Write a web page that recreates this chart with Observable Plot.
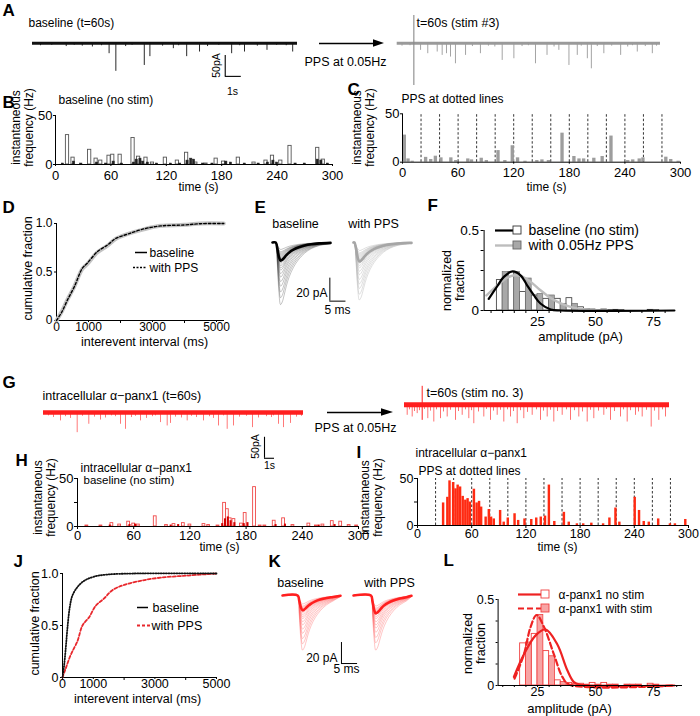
<!DOCTYPE html>
<html><head><meta charset="utf-8">
<script src="https://cdn.jsdelivr.net/npm/d3@7"></script>
<script src="https://cdn.jsdelivr.net/npm/@observablehq/plot@0.6"></script>
<style>
html,body{margin:0;padding:0;background:#fff;}
#fig{position:relative;width:700px;height:716px;overflow:hidden;background:#fff;}
#fig svg{position:absolute;left:0;top:0;}
</style></head><body><div id="fig"></div>
<script>
// ================= DATA =================
// A: spontaneous events in the 60 s sample traces (time s, amplitude pA)
const aBaseT   = [0.5,1.2,2.1,2.6,3.1,3.73,4.3,4.77,5.19,5.8,6.2,6.96,7.31,8.1,8.77,9.1,9.6,10.4,10.9,11.6,12.4,12.9,13.2,14.0,14.6,15.2,15.8,16.2];
const aBaseAmp = [6,5,8,5,7,9,6,25,67,8,5,53,32,7,13,6,32,21,8,5,25,6,21,7,17,5,6,21];
const aStimT   = [0.3,0.8,1.46,1.91,2.5,2.81,3.08,3.33,3.64,4.27,4.7,5.2,5.7,6.1,6.56,7.29,7.8,8.2,8.64,9.36,9.8,10.1,10.73,11.25,11.5,11.88,12.13,12.5,12.91,13.4,13.96,14.4,14.7,15.0,15.5,15.94,16.2];
const aStimAmp = [7,6,17,25,21,29,25,33,49,29,8,25,7,9,41,37,8,6,49,29,9,17,53,29,7,37,61,8,25,7,29,9,6,21,8,25,7];
const aStimArtifact = {t: 1.04, up: 66, down: 101};

// G: alpha-panx1 sample traces
const gBaseT   = [0.5,1.0,1.7,2.2,2.7,3.37,3.9,4.53,5.1,5.7,6.2,6.8,7.2,7.7,8.2,8.8,9.2,9.7,10.3,10.9,11.2,11.7,12.37,12.7,13.2,13.8,14.37,14.8,15.3,16.0,16.6,17.0,17.5,18.0,18.37,19.0,19.6,20.3,20.9,21.5,22.3,22.8,23.0,23.5,24.0,24.7,25.3,25.8];
const gBaseAmp = [8,12,20,10,14,48,9,28,11,18,13,8,10,28,40,12,9,20,14,10,8,24,32,26,11,13,20,9,12,20,10,14,32,8,40,32,11,9,36,13,10,12,8,28,36,26,11,9];
const gStimT   = [0.27,0.5,0.77,1.0,1.27,1.5,2.0,2.33,2.6,2.93,3.2,3.6,3.9,4.27,4.6,5.1,5.4,5.77,6.1,6.43,6.7,6.93,7.4,7.93,8.2,8.6,8.9,9.27,9.6,9.93,10.3,10.6,10.9,11.27,11.6,11.93,12.3,12.77,13.2,13.6,13.9,14.27,14.6,14.93,15.3,15.77,16.2,16.6,17.0,17.43,17.8,18.27,18.6,18.93,19.4,19.93,20.2,20.6,21.0,21.6,21.9,22.27,22.6,23.1,23.4,23.77,24.2,24.67,25.0,25.43,25.8,26.1];
const gStimAmp = [25,12,29,16,21,14,11,33,15,41,12,33,17,29,13,37,16,25,12,33,14,45,17,29,11,37,15,25,13,41,12,29,16,45,14,33,18,25,12,37,15,29,13,41,16,25,12,37,14,29,17,41,13,33,15,25,11,37,16,29,12,41,14,25,17,29,13,53,15,37,12,29];
const gStimArtifact = {t: 1.77, up: 44, down: 37};

// B / C: instantaneous frequency (Hz) vs time (s)
const bTime  = [13,19,37,44,49,58,62,70,84,90,98,105,119,132,142,152,163,174,182,198,215,228,235,244,254,284,290];
const bFreq  = [30,7,15,6,4,9,10,10,27,8,7,2,7,4,12,2,1,6,3,7,2,4,9,4,19,17,5];
const bDarkT = [8,20,28,45,55,63,72,85,88,92,95,100,110,125,135,143,147,150,160,170,185,190,205,220,230,236,240,260,270,284,288,295];
const bDarkF = [1,3,1,2,1,3,1,2,5,6,3,2,1,1,1,4,6,5,1,1,3,2,1,1,2,4,2,1,1,5,4,1];
const cTime  = [2.5,6.5,11,25.5,31,36,42,52.7,58,71,75,85.5,91,103.6,111,119,124.7,132.7,145.5,151,158,172.7,185.5,191,196,207,216,225.5,243.6,249,256,260,284.7,290,298];
const cFreq  = [28,3.4,1,5,2.8,6.2,4.5,4.5,1.7,3.4,2.4,4.1,1.7,12,1.7,17,4.5,1,1.7,2.4,1.7,30,5.9,3.4,3.4,4.1,5.9,27,1.7,2.4,3.4,4.5,5.2,2.8,1];
const stimTimes = [20,40,60,80,100,120,140,160,180,200,220,240,260,280];

// H / I
const hTime  = [10,25,36.7,45,54.6,60,65,83,95,103,113,120,135,140,150,157,160,163,167,175,179,189,195,200,210,220,230,247,255,262,272,281,290,298];
const hFreq  = [1,1,3.5,2,5,3,2,10.6,1.5,2.5,3.5,2,2.5,1.5,1,24.6,18,8.5,7.7,3,14,41,1,1,6,8.5,1.5,3,1,2,5.6,5,1.5,1];
const hDarkT = [35,56,62,100,108,155,158,161,164,168,178,182,212,222,258,275];
const hDarkF = [1.5,2,2.5,1.5,2,3,8,10,6,4,3,4,2,2.5,1.5,2];
const iTime  = [28.9,33.6,36,40,42.6,45,47.7,50.6,53.5,56,58.5,63,66,68.7,71,76,79.5,82,85,92,96,100.5,108,112,119,126.5,132,137,141.7,146,152,162.6,168,177,184,193,206,213,219.7,224,241,245.8,251,256.6,267,280,285.5,297];
const iFreq  = [24,30,47.5,45.7,39,43,41,31,27,28.6,25,38.6,24,25.7,19.6,9,17,9,7,16,3.6,8,12.5,5.4,7,6.4,8,9,10,43,4.3,14,3.6,1.8,1.8,2.5,1.8,8,18.6,3.6,30,16,4.3,3.6,7,1.8,1.8,6.4];

// D / J: cumulative fraction vs interevent interval (ms)
const dBaseX = [0,178,334,541,803,959,1271,1584,1844,2209,2728,3250,3978,4500,5228];
const dBaseY = [0,0.10,0.21,0.34,0.53,0.58,0.70,0.77,0.84,0.89,0.94,0.976,0.986,1.0,1.0];
const dPPSX  = [0,170,340,560,810,960,1280,1600,1850,2220,2740,3260,3990,4510,5228];
const dPPSY  = [0,0.09,0.21,0.35,0.54,0.59,0.71,0.78,0.845,0.89,0.945,0.975,0.985,0.998,1.0];
const jBaseX = [0,54,108,162,238,324,486,702,1026,1458,2322,5000];
const jBaseY = [0,0.12,0.29,0.48,0.68,0.79,0.87,0.93,0.97,0.99,1.0,1.0];
const jPPSX  = [0,108,270,486,648,864,1080,1350,1620,1998,2538,3186,4050,5000];
const jPPSY  = [0,0.09,0.22,0.35,0.50,0.58,0.69,0.76,0.84,0.89,0.93,0.96,0.98,1.0];

// E / K: averaged mEPSC waveform (ms after onset, fraction of peak) and per-event peak amplitudes (pA)
const tplT = [0,0.5,1.0,1.5,2.0,2.6,3.3,4.2,5.5,7,9,11,13.5,17];
const tplV = [0,-0.35,-0.8,-1.0,-0.96,-0.85,-0.7,-0.55,-0.4,-0.28,-0.17,-0.1,-0.05,-0.02];
const eBaseAmps = [6,8,9,10,11,12,13,14,15,16,17,18,20,22,24,27,30,34,38,43,48,54];
const ePPSAmps  = [7,9,10,11,12,13,14,15,16,18,20,22,25,28,32,36,40,45,50];
const kBaseAmps = [8,10,11,12,13,14,15,16,18,20,22,25,28,32,36,41,46,52];
const kPPSAmps  = [10,12,13,14,15,16,18,20,22,25,28,31,35,40,45,52];
const eMean = {base: 15.7, pps: 16.5};
const kMean = {base: 14, pps: 17};

// F / L: amplitude histograms (bin centre pA, normalized fraction) and Gaussian fits
const fBins = [10,15,20,25,30,35,40,45,50,55,60,65,70,75];
const fBase = [0.19,0.24,0.115,0.094,0.073,0.073,0.077,0.02,0.006,0.006,0.004,0,0,0.004];
const fPPS  = [0.24,0.24,0.20,0.104,0.094,0.042,0.042,0.01,0.004,0.004,0.002,0,0,0.002];
const fBaseFitX = [4,7.6,10.5,14.3,17.7,20.6,23.5,26.4,30.7,35,84];
const fBaseFitY = [0.073,0.15,0.21,0.244,0.22,0.156,0.094,0.042,0.006,0,0];
const fPPSFitX  = [3,8,12,15,18,22,26,30,35,40,45,50,55];
const fPPSFitY  = [0.094,0.16,0.205,0.22,0.215,0.18,0.13,0.085,0.045,0.02,0.008,0.002,0];
const lBins = [20,25,30,35,40,45,50,55,60,65,70,75];
const lNo   = [0.245,0.30,0.20,0.03,0.015,0.01,0.015,0.015,0.005,0.005,0.005,0.01];
const lStim = [0.25,0.41,0.17,0.02,0.01,0.005,0.005,0.005,0,0.005,0,0.005];
const lNoFitX   = [14.8,19.1,24.1,28.4,33.5,37.8,40.7,43.6,84];
const lNoFitY   = [0.05,0.18,0.29,0.326,0.24,0.09,0.02,0.004,0];
const lStimFitX = [15.1,19.1,22,24.6,27.8,32.1,35.7,38.6,84];
const lStimFitY = [0.04,0.18,0.34,0.41,0.34,0.18,0.05,0.006,0];

// ================= DRAWING =================
const fig = document.getElementById("fig");
const FONT = '"Liberation Sans", Arial, Helvetica, sans-serif';
const W = 700, H = 716;
const RED = "#ff1f1f";
const pts = (xs, ys) => xs.map((x, i) => ({x, y: ys[i]}));
const ev = (ts, as) => ts.map((t, i) => ({t, a: as[i]}));

function panel(box, xs, ys, marks) {
  const svg = Plot.plot({
    width: W, height: H,
    marginLeft: box.l, marginRight: W - box.r, marginTop: box.t, marginBottom: H - box.b,
    x: {axis: null, ...xs}, y: {axis: null, ...ys},
    style: {background: "none", fontFamily: FONT, color: "#000", overflow: "visible"},
    marks
  });
  svg.style.position = "absolute"; svg.style.left = "0px"; svg.style.top = "0px";
  fig.appendChild(svg);
}
function axes(o) {
  const m = [];
  const fmt = (ticks, labs) => d => { const i = ticks.indexOf(d); return i < 0 ? "" : labs[i]; };
  m.push(Plot.axisX({ticks: o.xt, tickSize: o.ts ?? 3, tickPadding: o.xpad ?? 2, fontSize: o.fs ?? 12, label: null, tickFormat: fmt(o.xt, o.xl)}));
  m.push(Plot.axisY({ticks: o.yt, tickSize: o.ts ?? 3, tickPadding: o.ypad ?? 2, fontSize: o.fs ?? 12, label: null, tickFormat: fmt(o.yt, o.yl)}));
  m.push(Plot.ruleY([o.y0], {stroke: "#000", strokeWidth: 1}));
  m.push(Plot.ruleX([o.x0], {stroke: "#000", strokeWidth: 1}));
  return m;
}
function traceRows(amps, onset, len) {
  const rows = [];
  amps.forEach((a, k) => {
    rows.push({k, t: 0, v: 0});
    tplT.forEach((tt, j) => { const t = onset + tt; if (t < len) rows.push({k, t, v: a * tplV[j]}); });
    rows.push({k, t: len, v: a * tplV[tplV.length - 1]});
  });
  return rows;
}
function traceMarks(amps, mean, onset, color, meanColor, op) {
  return [
    Plot.line(traceRows(amps, onset, 18), {x: "t", y: "v", z: "k", stroke: color, strokeOpacity: op, strokeWidth: 0.6, curve: "catmull-rom"}),
    Plot.line(traceRows([mean], onset, 18), {x: "t", y: "v", z: "k", stroke: meanColor, strokeWidth: 2.6, curve: "catmull-rom"})
  ];
}

// ---- A: sample traces ----
const trY = {domain: [-80, 30]};
panel({l: 32, r: 297, t: 30.1, b: 76.3}, {domain: [0, 16.5]}, trY, [
  Plot.ruleY([0], {stroke: "#111", strokeWidth: 3}),
  Plot.ruleX(ev(aBaseT, aBaseAmp), {x: "t", y1: () => 0, y2: d => -d.a, stroke: "#111", strokeWidth: 0.9}),
  Plot.ruleX([12], {y1: -29, y2: -79, stroke: "#000", strokeWidth: 1.1}),
  Plot.ruleY([-79], {x1: 12, x2: 13, stroke: "#000", strokeWidth: 1.1})
]);
panel({l: 396.7, r: 660, t: 30.1, b: 76.3}, {domain: [0, 16.45]}, trY, [
  Plot.ruleY([0], {stroke: "#9a9a9a", strokeWidth: 3}),
  Plot.ruleX(ev(aStimT, aStimAmp), {x: "t", y1: () => 0, y2: d => -d.a, stroke: "#9a9a9a", strokeWidth: 0.9}),
  Plot.ruleX([aStimArtifact], {x: "t", y1: d => d.up, y2: d => -d.down, stroke: "#8a8a8a", strokeWidth: 1.1})
]);

// ---- G: sample traces ----
panel({l: 43, r: 303, t: 399.4, b: 445.6}, {domain: [0, 26]}, trY, [
  Plot.ruleY([0], {stroke: RED, strokeWidth: 4.5}),
  Plot.ruleX(ev(gBaseT, gBaseAmp), {x: "t", y1: () => 0, y2: d => -d.a, stroke: RED, strokeOpacity: 0.75, strokeWidth: 0.8}),
  Plot.ruleX([22.1], {y1: -59, y2: -109, stroke: "#000", strokeWidth: 1.1}),
  Plot.ruleY([-109], {x1: 22.1, x2: 23.1, stroke: "#000", strokeWidth: 1.1})
]);
panel({l: 404, r: 669, t: 391.7, b: 437.9}, {domain: [0, 26.5]}, trY, [
  Plot.ruleY([0], {stroke: RED, strokeWidth: 5}),
  Plot.ruleX(ev(gStimT, gStimAmp), {x: "t", y1: () => 0, y2: d => -d.a, stroke: RED, strokeOpacity: 0.8, strokeWidth: 0.8}),
  Plot.ruleX([gStimArtifact], {x: "t", y1: d => d.up, y2: d => -d.down, stroke: RED, strokeWidth: 1})
]);

// ---- B ----
panel({l: 55, r: 332, t: 115, b: 164}, {domain: [0, 300]}, {domain: [0, 50]}, [
  Plot.rect(ev(bTime, bFreq), {x1: d => d.t - 1.75, x2: d => d.t + 1.75, y1: () => 0, y2: "a", fill: "white", stroke: "#555", strokeWidth: 0.9}),
  Plot.rect(ev(bDarkT, bDarkF), {x1: d => d.t - 1.2, x2: d => d.t + 1.2, y1: () => 0, y2: "a", fill: "#222", stroke: "#222", strokeWidth: 0.5}),
  ...axes({xt: [0,60,120,180,240,300], xl: ["0","60","120","180","240","300"], yt: [0,50], yl: ["0","50"], fs: 13, xpad: 4, ypad: 1, ts: 2, x0: 0, y0: 0})
]);
// ---- C ----
panel({l: 402, r: 680, t: 113.3, b: 161.7}, {domain: [0, 300]}, {domain: [0, 50]}, [
  Plot.ruleX(stimTimes, {y1: 0, y2: 50, stroke: "#000", strokeWidth: 0.8, strokeDasharray: "2.5,2"}),
  Plot.rect(ev(cTime, cFreq), {x1: d => d.t - 1.8, x2: d => d.t + 1.8, y1: () => 0, y2: "a", fill: "#9d9d9d"}),
  ...axes({xt: [0,60,120,180,240,300], xl: ["0","60","120","180","240","300"], yt: [0,50], yl: ["0","50"], fs: 13, xpad: 4, ypad: 1, ts: 2, x0: 0, y0: 0})
]);
// ---- H ----
panel({l: 77, r: 358, t: 478, b: 526}, {domain: [0, 300]}, {domain: [0, 50]}, [
  Plot.rect(ev(hTime, hFreq), {x1: d => d.t - 1.5, x2: d => d.t + 1.5, y1: () => 0, y2: "a", fill: "white", stroke: "#f04848", strokeWidth: 0.9}),
  Plot.rect(ev(hDarkT, hDarkF), {x1: d => d.t - 1.1, x2: d => d.t + 1.1, y1: () => 0, y2: "a", fill: "#d40000"}),
  ...axes({xt: [0,60,120,180,240,300], xl: ["0","60","120","180","240","300"], yt: [0,25,50], yl: ["0","","50"], fs: 13, xpad: 1, ypad: 1, ts: 3, x0: 0, y0: 0})
]);
// ---- I ----
panel({l: 417, r: 688, t: 478, b: 525}, {domain: [0, 300]}, {domain: [0, 50]}, [
  Plot.ruleX(stimTimes, {y1: 0, y2: 50, stroke: "#000", strokeWidth: 0.8, strokeDasharray: "2.5,2"}),
  Plot.rect(ev(iTime, iFreq), {x1: d => d.t - 1.35, x2: d => d.t + 1.35, y1: () => 0, y2: "a", fill: "#ff2a12"}),
  ...axes({xt: [0,60,120,180,240,300], xl: ["0","60","120","180","240","300"], yt: [0,25,50], yl: ["0","","50"], fs: 12.5, xpad: 1, ypad: 1, ts: 3, x0: 0, y0: 0})
]);

// ---- D ----
panel({l: 56, r: 224, t: 223, b: 320}, {domain: [0, 5250]}, {domain: [0, 1]}, [
  Plot.axisX({ticks: [2000, 4000], tickSize: 3, tickFormat: () => "", label: null}),
  ...axes({xt: [0,1000,3000,5000], xl: ["0","1000","3000","5000"], yt: [0,0.5,1], yl: ["0","0.5","1.0"], fs: 12, xpad: 0, ypad: 2, ts: 2, x0: 0, y0: 0}),
  Plot.line(pts(dBaseX, dBaseY), {x: "x", y: "y", stroke: "#c4c4c4", strokeWidth: 4, curve: "catmull-rom"}),
  Plot.line(pts(dPPSX, dPPSY), {x: "x", y: "y", stroke: "#000", strokeWidth: 1.4, strokeDasharray: "2.5,2", curve: "catmull-rom"})
]);
// ---- J ----
panel({l: 62, r: 216, t: 573, b: 677}, {domain: [0, 5000]}, {domain: [0, 1]}, [
  Plot.axisX({ticks: [2000, 4000], tickSize: 3, tickFormat: () => "", label: null}),
  ...axes({xt: [0,1000,3000,5000], xl: ["0","1000","3000","5000"], yt: [0,0.5,1], yl: ["0","0.5","1.0"], fs: 12.5, xpad: 0, ypad: 2, ts: 2, x0: 0, y0: 0}),
  Plot.line(pts(jPPSX, jPPSY), {x: "x", y: "y", stroke: "#e8282d", strokeWidth: 1.8, strokeDasharray: "3,2", curve: "catmull-rom"}),
  Plot.line(pts(jBaseX, jBaseY), {x: "x", y: "y", stroke: "#111", strokeWidth: 1.8, strokeDasharray: "1,1.6", curve: "catmull-rom"})
]);

// ---- E ----
const eY = {domain: [-60, 5]};
panel({l: 272, r: 330, t: 236.25, b: 311}, {domain: [0, 18]}, eY, [
  ...traceMarks(eBaseAmps, eMean.base, 1.0, "#222", "#000", 0.45),
  Plot.ruleX([17.8], {y1: -31, y2: -51, stroke: "#000", strokeWidth: 1}),
  Plot.ruleY([-51], {x1: 17.8, x2: 22.8, stroke: "#000", strokeWidth: 1})
]);
panel({l: 353, r: 411, t: 236.25, b: 311}, {domain: [0, 18]}, eY, [
  ...traceMarks(ePPSAmps, eMean.pps, 0.3, "#b5b5b5", "#a6a6a6", 0.7)
]);
// ---- K ----
const kY = {domain: [-60, 5]};
panel({l: 282, r: 340, t: 589.75, b: 658}, {domain: [0, 18]}, kY, [
  ...traceMarks(kBaseAmps, kMean.base, 4.7, "#ff5050", RED, 0.55),
  Plot.ruleX([18.3], {y1: -44.8, y2: -64.8, stroke: "#000", strokeWidth: 1}),
  Plot.ruleY([-64.8], {x1: 18.3, x2: 23.3, stroke: "#000", strokeWidth: 1})
]);
panel({l: 353, r: 411, t: 589.75, b: 658}, {domain: [0, 18]}, kY, [
  ...traceMarks(kPPSAmps, kMean.pps, 5.4, "#ff5050", RED, 0.55)
]);

// ---- F ----
const fHist = fBins.map((c, i) => ({c, base: fBase[i], pps: fPPS[i]}));
const fracT = [0, 0.125, 0.25, 0.375, 0.5];
const fracL = ["0", "", "", "", "0.5"];
const ampT = d3.range(5, 81, 5);
panel({l: 483.6, r: 673.9, t: 230, b: 310}, {domain: [2, 84]}, {domain: [0, 0.5]}, [
  Plot.rect(fHist.filter(d => d.base > 0), {x1: d => d.c - 2.5, x2: "c", y1: () => 0, y2: "base", fill: "white", stroke: "#333", strokeWidth: 0.8}),
  Plot.rect(fHist.filter(d => d.pps > 0), {x1: "c", x2: d => d.c + 2.5, y1: () => 0, y2: "pps", fill: "#a8a8a8", stroke: "#666", strokeWidth: 0.6}),
  Plot.line(pts(fPPSFitX, fPPSFitY), {x: "x", y: "y", stroke: "#bdbdbd", strokeWidth: 2.4, curve: "catmull-rom"}),
  Plot.line(pts(fBaseFitX, fBaseFitY), {x: "x", y: "y", stroke: "#000", strokeWidth: 2.2, curve: "catmull-rom"}),
  ...axes({xt: ampT, xl: ampT.map(d => d % 25 === 0 ? String(d) : ""), yt: fracT, yl: fracL, fs: 13.5, xpad: 3, ypad: 2, ts: 3, x0: 2, y0: 0})
]);
// ---- L ----
const lHist = lBins.map((c, i) => ({c, no: lNo[i], stim: lStim[i]}));
const ampTL = d3.range(10, 86, 5);
panel({l: 497.6, r: 682, t: 599, b: 685}, {domain: [8, 87.5]}, {domain: [0, 0.5]}, [
  Plot.rect(lHist.filter(d => d.no > 0), {x1: d => d.c - 2.5, x2: "c", y1: () => 0, y2: "no", fill: "white", stroke: "#f04040", strokeWidth: 0.9}),
  Plot.rect(lHist.filter(d => d.stim > 0), {x1: "c", x2: d => d.c + 2.5, y1: () => 0, y2: "stim", fill: "#f7a4a4", stroke: "#f04040", strokeWidth: 0.8}),
  Plot.line(pts(lNoFitX, lNoFitY), {x: "x", y: "y", stroke: "#ee2222", strokeWidth: 2.2, curve: "catmull-rom"}),
  Plot.line(pts(lStimFitX, lStimFitY), {x: "x", y: "y", stroke: "#ee2222", strokeWidth: 2.2, strokeDasharray: "6,3", curve: "catmull-rom"}),
  ...axes({xt: ampTL, xl: ampTL.map(d => d % 25 === 0 ? String(d) : ""), yt: fracT, yl: fracL, fs: 12.5, xpad: 0, ypad: 2, ts: 2, x0: 8, y0: 0})
]);

// ================= LAYOUT: letters, titles, notes, legends, arrows =================
const labels = [
  {text:"A", x:2, y:10, size:17, weight:"bold", anchor:"start"},
  {text:"B", x:2, y:102, size:17, weight:"bold", anchor:"start"},
  {text:"C", x:347, y:89, size:17, weight:"bold", anchor:"start"},
  {text:"D", x:2, y:207, size:17, weight:"bold", anchor:"start"},
  {text:"E", x:254, y:207, size:17, weight:"bold", anchor:"start"},
  {text:"F", x:427, y:205, size:17, weight:"bold", anchor:"start"},
  {text:"G", x:2, y:382, size:17, weight:"bold", anchor:"start"},
  {text:"H", x:15, y:460, size:17, weight:"bold", anchor:"start"},
  {text:"I", x:356, y:452, size:17, weight:"bold", anchor:"start"},
  {text:"J", x:13, y:561, size:17, weight:"bold", anchor:"start"},
  {text:"K", x:268, y:561, size:17, weight:"bold", anchor:"start"},
  {text:"L", x:443, y:560, size:17, weight:"bold", anchor:"start"},
  {text:"baseline (t=60s)", x:28, y:22, size:12, anchor:"start"},
  {text:"50pA", x:216, y:65, size:10.5, rotate:-90},
  {text:"1s", x:232, y:91, size:10.5},
  {text:"PPS at 0.05Hz", x:345, y:61, size:12.5},
  {text:"t=60s (stim #3)", x:416, y:22, size:12.5, anchor:"start"},
  {text:"baseline (no stim)", x:58, y:99, size:12, anchor:"start"},
  {text:"instantaneous\nfrequency (Hz)", x:22, y:127, size:12, rotate:-90},
  {text:"time (s)", x:198, y:186, size:12},
  {text:"PPS at dotted lines", x:401, y:98, size:12, anchor:"start"},
  {text:"instantaneous\nfrequency (Hz)", x:363, y:127, size:12, rotate:-90},
  {text:"time (s)", x:546, y:186, size:12},
  {text:"cumulative fraction", x:27, y:268, size:12.5, rotate:-90},
  {text:"baseline", x:149, y:252, size:12, anchor:"start"},
  {text:"with PPS", x:149, y:267, size:12, anchor:"start"},
  {text:"interevent interval (ms)", x:144, y:341, size:12.5},
  {text:"baseline", x:295, y:223, size:12.5},
  {text:"with PPS", x:373, y:223, size:12.5},
  {text:"20 pA", x:327, y:292, size:12, anchor:"end"},
  {text:"5 ms", x:337, y:309, size:12},
  {text:"baseline (no stim)", x:528, y:230, size:14, anchor:"start"},
  {text:"with 0.05Hz PPS", x:528, y:245, size:14, anchor:"start"},
  {text:"normalized\nfraction", x:453, y:280, size:12.5, rotate:-90},
  {text:"amplitude (pA)", x:580, y:336, size:13},
  {text:"intracellular α−panx1 (t=60s)", x:42, y:395, size:12.5, anchor:"start"},
  {text:"50pA", x:255, y:446, size:10.5, rotate:-90},
  {text:"1s", x:269, y:465, size:10.5},
  {text:"PPS at 0.05Hz", x:355, y:427, size:12.5},
  {text:"t=60s (stim no. 3)", x:426, y:392, size:12.5, anchor:"start"},
  {text:"intracellular α−panx1", x:80, y:467, size:12, anchor:"start"},
  {text:"baseline (no stim)", x:83, y:480, size:11.5, anchor:"start"},
  {text:"instantaneous\nfrequency (Hz)", x:44, y:497, size:12, rotate:-90},
  {text:"time (s)", x:219, y:546, size:12},
  {text:"intracellular α−panx1", x:415, y:452, size:12, anchor:"start"},
  {text:"PPS at dotted lines", x:418, y:470, size:12, anchor:"start"},
  {text:"instantaneous\nfrequency (Hz)", x:371, y:497, size:12, rotate:-90},
  {text:"time (s)", x:557, y:546, size:12},
  {text:"cumulative fraction", x:34, y:623, size:12.5, rotate:-90},
  {text:"baseline", x:152, y:607, size:12.5, anchor:"start"},
  {text:"with PPS", x:151, y:625, size:12.5, anchor:"start"},
  {text:"interevent interval (ms)", x:137, y:698, size:12.5},
  {text:"baseline", x:300, y:582, size:12.5},
  {text:"with PPS", x:389, y:582, size:12.5},
  {text:"20 pA", x:337, y:657, size:12, anchor:"end"},
  {text:"5 ms", x:346, y:668, size:12},
  {text:"α-panx1 no stim", x:558, y:594, size:12, anchor:"start"},
  {text:"α-panx1 with stim", x:558, y:608, size:12, anchor:"start"},
  {text:"normalized\nfraction", x:474, y:643, size:12.5, rotate:-90},
  {text:"amplitude (pA)", x:569, y:708, size:13}
];
const segs = [
  {x1:319, x2:376, y:43, stroke:"#000", w:1.3},
  {x1:327, x2:384, y:412, stroke:"#000", w:1.3},
  {x1:135, x2:147, y:252, stroke:"#000", w:1.5},
  {x1:133, x2:147, y:267, stroke:"#000", w:1.5, dash:"2,1.5"},
  {x1:495, x2:513, y:230, stroke:"#000", w:2.2},
  {x1:495, x2:513, y:245, stroke:"#bdbdbd", w:2.4},
  {x1:137, x2:148, y:607, stroke:"#000", w:1.5},
  {x1:137, x2:150, y:625, stroke:"#e8282d", w:1.8, dash:"3,2"},
  {x1:518, x2:541, y:594, stroke:"#ee2222", w:2.2},
  {x1:518, x2:541, y:608, stroke:"#ee2222", w:2.2, dash:"6,3"}
];
const heads = [
  {x1:373, x2:384, y:43},
  {x1:381, x2:393, y:412}
];
const swatches = [
  {x1:513, x2:521, y1:226, y2:234, fill:"white", stroke:"#333"},
  {x1:513, x2:521, y1:241, y2:249, fill:"#a8a8a8", stroke:"#666"},
  {x1:541, x2:549, y1:590, y2:598, fill:"white", stroke:"#f04040"},
  {x1:541, x2:549, y1:604, y2:612, fill:"#f7a4a4", stroke:"#f04040"}
];
const layoutMarks = [
  ...segs.map(s => Plot.ruleY([s], {y: "y", x1: "x1", x2: "x2", stroke: s.stroke, strokeWidth: s.w, strokeDasharray: s.dash})),
  ...heads.map(h => Plot.areaY([{x: h.x1, y1: h.y - 3.8, y2: h.y + 3.8}, {x: h.x2, y1: h.y, y2: h.y}], {x: "x", y1: "y1", y2: "y2", fill: "#000"})),
  ...swatches.map(s => Plot.rect([s], {x1: "x1", x2: "x2", y1: "y1", y2: "y2", fill: s.fill, stroke: s.stroke, strokeWidth: 0.9})),
  ...labels.map(l => Plot.text([l], {x: "x", y: "y", text: "text", fontSize: l.size, fontWeight: l.weight || "normal",
      textAnchor: l.anchor || "middle", rotate: l.rotate || 0, lineAnchor: "middle", lineHeight: 1.05, fill: "#000"}))
];
const lay = Plot.plot({
  width: W, height: H, margin: 0,
  x: {domain: [0, W], axis: null}, y: {domain: [H, 0], axis: null},
  style: {background: "none", fontFamily: FONT, color: "#000", overflow: "visible"},
  marks: layoutMarks
});
lay.style.position = "absolute"; lay.style.left = "0px"; lay.style.top = "0px";
fig.appendChild(lay);
</script></body></html>
